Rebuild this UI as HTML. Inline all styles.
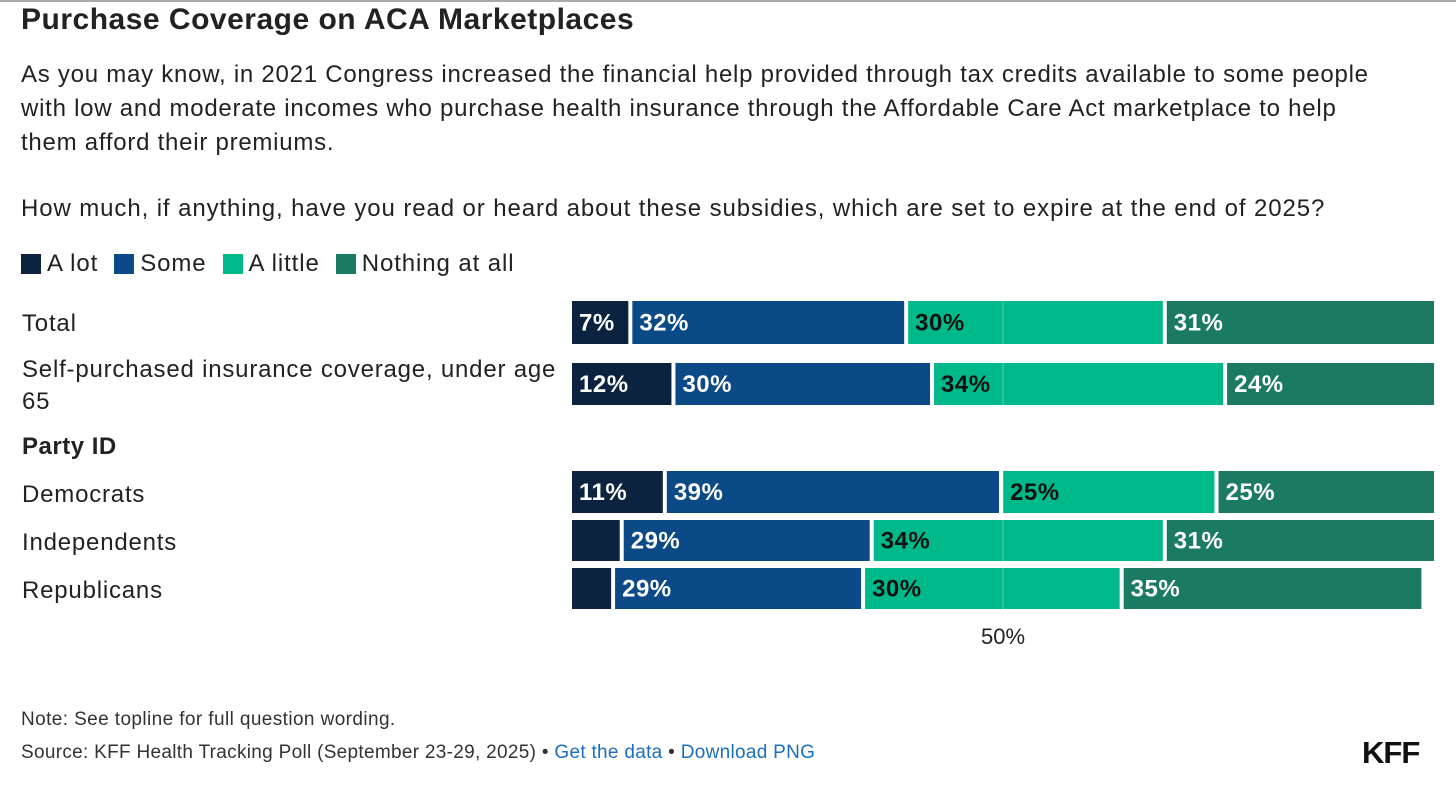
<!DOCTYPE html>
<html><head><meta charset="utf-8"><style>
body{margin:0;width:1456px;height:790px;background:#fff;font-family:"Liberation Sans",sans-serif;color:#222;position:relative;overflow:hidden}
.t{position:absolute;white-space:nowrap}
</style></head><body>
<div style="position:absolute;left:0;top:0;width:1456px;height:2px;background:#aaa"></div>
<div class="t" style="left:21px;top:3px;font-size:30px;font-weight:bold;color:#222;letter-spacing:0.5px">Purchase Coverage on ACA Marketplaces</div>
<div class="t" style="left:21px;top:58px;font-size:24px;line-height:34px;color:#222;letter-spacing:0.75px">As you may know, in 2021 Congress increased the financial help provided through tax credits available to some people<br>with low and moderate incomes who purchase health insurance through the Affordable Care Act marketplace to help<br>them afford their premiums.</div>
<div class="t" style="left:21px;top:195px;font-size:24px;color:#222;letter-spacing:0.9px">How much, if anything, have you read or heard about these subsidies, which are set to expire at the end of 2025?</div>
<div id="legend" style="position:absolute;left:21px;top:250px;font-size:24px;letter-spacing:0.9px;display:flex;gap:16px;align-items:center"></div>
<svg id="chart" width="1456" height="680" style="position:absolute;left:0;top:0"></svg>
<div class="t" style="left:21px;top:709px;font-size:19px;color:#333;letter-spacing:0.4px">Note: See topline for full question wording.</div>
<div class="t" style="left:21px;top:742px;font-size:19px;color:#333;letter-spacing:0.3px">Source: KFF Health Tracking Poll (September 23-29, 2025) • <span style="color:#1a6fc1">Get the data</span> • <span style="color:#1a6fc1">Download PNG</span></div>
<div class="t" style="left:1362px;top:735px;font-size:31px;font-weight:bold;color:#111;letter-spacing:-1px">KFF</div>
<script>
const categories=["Total","Self-purchased insurance coverage, under age 65","Democrats","Independents","Republicans"];
const aLot=[7,12,11,6,5];
const some=[32,30,39,29,29];
const aLittle=[30,34,25,34,30];
const nothing=[31,24,25,31,35];
const showLabel=[[1,1,1,1],[1,1,1,1],[1,1,1,1],[0,1,1,1],[0,1,1,1]];
const seriesNames=["A lot","Some","A little","Nothing at all"];
const colors=["#0c233f","#0b4a86","#00b98a","#1b7a62"];
const NS="http://www.w3.org/2000/svg";
const svg=document.getElementById('chart');
const x0=572,pxPer=8.62;
const xs=v=>x0+v*pxPer;
const rowTop=[301,363,471,520,568],rowH=[43,42,42,41,41];
const lg=document.getElementById('legend');
seriesNames.forEach((n,i)=>{const s=document.createElement('span');


s.style.cssText='display:flex;align-items:center;gap:6px';
s.innerHTML='<span style="width:20px;height:20px;display:inline-block;background:'+colors[i]+'"></span>'+n;lg.appendChild(s);});
function txt(x,y,s,attrs,name){const t=document.createElementNS(NS,'text');t.setAttribute('x',x);t.setAttribute('y',y);
for(const k in attrs)t.setAttribute(k,attrs[k]);t.textContent=s;


svg.appendChild(t);}
const series=[aLot,some,aLittle,nothing];
categories.forEach((c,r)=>{let acc=0;
series.forEach((ser,si)=>{const v=ser[r];const a=xs(acc),b=xs(acc+v)-(acc+v<100?4:0);
const rc=document.createElementNS(NS,'rect');rc.setAttribute('x',a);rc.setAttribute('y',rowTop[r]);rc.setAttribute('width',b-a);rc.setAttribute('height',rowH[r]);rc.setAttribute('fill',colors[si]);


svg.appendChild(rc);
if(showLabel[r][si])txt(a+7,rowTop[r]+rowH[r]/2+8,v+'%',{'font-size':'24','font-weight':'bold','letter-spacing':'0.5','fill':si==2?'#111':'#fff','font-family':'Liberation Sans, sans-serif'},'bar-label');
acc+=v;});});
const gl=document.createElementNS(NS,'line');gl.setAttribute('x1',xs(50));gl.setAttribute('x2',xs(50));gl.setAttribute('y1',300);gl.setAttribute('y2',612);gl.setAttribute('stroke','rgba(255,255,255,0.35)');gl.setAttribute('stroke-width','1');


svg.appendChild(gl);
txt(xs(50),644,'50%',{'font-size':'22','text-anchor':'middle','fill':'#222','font-family':'Liberation Sans, sans-serif'},'x-tick-50');
const labelPos=[[331],[377,409],[502],[550],[598]];
const lines=[["Total"],["Self-purchased insurance coverage, under age","65"],["Democrats"],["Independents"],["Republicans"]];
lines.forEach((ls,r)=>ls.forEach((l,i)=>txt(22,labelPos[r][i],l,{'font-size':'24','letter-spacing':'0.8','fill':'#222','font-family':'Liberation Sans, sans-serif'},'category-label')));
txt(22,454,'Party ID',{'font-size':'24','font-weight':'bold','letter-spacing':'0.5','fill':'#222','font-family':'Liberation Sans, sans-serif'},'group-header');
</script>
</body></html>
